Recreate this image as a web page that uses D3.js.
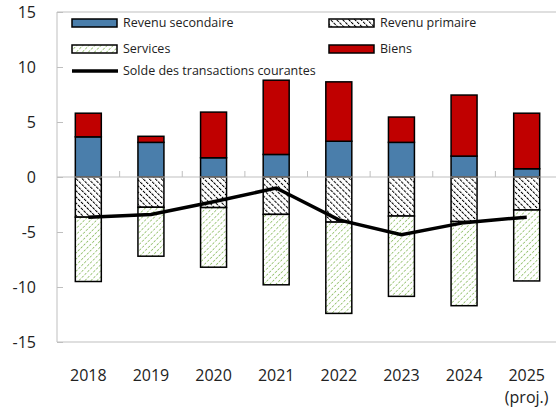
<!DOCTYPE html>
<html>
<head>
<meta charset="utf-8">
<script src="https://cdn.jsdelivr.net/npm/d3@7"></script>
<style>
  body { margin: 0; background: #fff; }
  svg { display: block; font-family: "Open Sans", "Noto Sans", sans-serif; }
</style>
</head>
<body>
<svg id="chart" width="556" height="410"></svg>
<script>
// values (% du PIB)
const years = ['2018', '2019', '2020', '2021', '2022', '2023', '2024', '2025']
const revSecondaire = [3.65, 3.15, 1.75, 2.05, 3.25, 3.15, 1.9, 0.75]
const revPrimaire = [-3.65, -2.75, -2.78, -3.4, -4.1, -3.55, -4.05, -3.0]
const services = [-5.85, -4.45, -5.42, -6.4, -8.3, -7.3, -7.65, -6.45]
const biens = [2.15, 0.55, 4.15, 6.75, 5.4, 2.3, 5.55, 5.05]
const solde = [-3.65, -3.4, -2.25, -1.0, -3.9, -5.25, -4.15, -3.65]
const yTicks = [-15, -10, -5, 0, 5, 10, 15]

const keys = ['secondaire', 'primaire', 'services', 'biens']
const rows = years.map((y, i) => ({
    year: y,
    secondaire: revSecondaire[i],
    primaire: revPrimaire[i],
    services: services[i],
    biens: biens[i]
}))

let svg = d3.select('#chart'),
    pLeft = 57, pRight = 558, pTop = 12, pBottom = 342,
    grey = '#bfbfbf'

let x = d3.scaleBand().domain(years).range([pLeft, pRight]).paddingInner(0.585).paddingOuter(0.2925)
let y = d3.scaleLinear().domain([-15, 15]).range([pBottom, pTop])

// patterns: primaire "\" black dashes, services "/" green dashes
let defs = svg.append('defs')
let p1 = defs.append('pattern').attr('id', 'hatchPrim')
    .attr('patternUnits', 'userSpaceOnUse').attr('width', 4.3).attr('height', 4)
    .attr('patternTransform', 'rotate(-45)')
p1.append('rect').attr('width', 4.3).attr('height', 4).attr('fill', '#fff')
p1.append('line').attr('x1', 0).attr('y1', 0).attr('x2', 0).attr('y2', 4)
    .attr('stroke', '#000').attr('stroke-width', 2).attr('stroke-dasharray', '3,1')

let p2 = defs.append('pattern').attr('id', 'hatchServ')
    .attr('patternUnits', 'userSpaceOnUse').attr('width', 4.3).attr('height', 4)
    .attr('patternTransform', 'rotate(45)')
p2.append('rect').attr('width', 4.3).attr('height', 4).attr('fill', '#fff')
p2.append('line').attr('x1', 0).attr('y1', 0).attr('x2', 0).attr('y2', 4)
    .attr('stroke', '#8cbd63').attr('stroke-width', 1.6).attr('stroke-dasharray', '2.5,1.5')

const fills = {
    secondaire: '#4a7eab',
    primaire: 'url(#hatchPrim)',
    services: 'url(#hatchServ)',
    biens: '#c00000'
}

// plot frame (left, top, bottom)
svg.append('path')
    .attr('d', `M${pRight},${pTop}H${pLeft}V${pBottom}H${pRight}`)
    .attr('fill', 'none').attr('stroke', grey).attr('stroke-width', 1)

// y ticks pointing inward
let yAxis = svg.append('g').attr('transform', `translate(${pLeft},0)`)
    .call(d3.axisRight(y).tickValues(yTicks).tickSize(6).tickFormat(''))
yAxis.select('.domain').remove()
yAxis.selectAll('line').attr('stroke', grey)

svg.append('g').selectAll('text').data(yTicks).join('text')
    .attr('x', 36).attr('y', d => y(d)).attr('dy', '0.36em')
    .attr('text-anchor', 'end').attr('font-size', 16).attr('fill', '#222')
    .text(d => d)

// bars
let series = d3.stack().keys(keys).offset(d3.stackOffsetDiverging)(rows)
svg.append('g').selectAll('g').data(series).join('g')
    .attr('fill', d => fills[d.key])
    .selectAll('rect').data(d => d).join('rect')
    .attr('x', d => x(d.data.year))
    .attr('width', x.bandwidth())
    .attr('y', d => y(Math.max(d[0], d[1])))
    .attr('height', d => Math.abs(y(d[0]) - y(d[1])))
    .attr('stroke', '#000').attr('stroke-width', 1.5)

// zero line with category ticks
svg.append('line').attr('x1', pLeft).attr('x2', pRight)
    .attr('y1', y(0)).attr('y2', y(0)).attr('stroke', grey).attr('stroke-width', 1.2)
svg.append('g').selectAll('line').data(years.slice(1)).join('line')
    .attr('x1', d => x(d) - x.step() * x.paddingInner() / 2)
    .attr('x2', d => x(d) - x.step() * x.paddingInner() / 2)
    .attr('y1', y(0)).attr('y2', y(0) - 6)
    .attr('stroke', grey)

// solde line
let line = d3.line().x((d, i) => x(years[i]) + x.bandwidth() / 2).y(d => y(d))
svg.append('path').datum(solde).attr('d', line)
    .attr('fill', 'none').attr('stroke', '#000').attr('stroke-width', 3.5)

// x labels
svg.append('g').selectAll('text').data(years).join('text')
    .attr('x', d => x(d) + x.bandwidth() / 2).attr('y', 381)
    .attr('text-anchor', 'middle').attr('font-size', 16).attr('fill', '#222')
    .text(d => d)
svg.append('text').attr('x', x('2025') + x.bandwidth() / 2).attr('y', 403)
    .attr('text-anchor', 'middle').attr('font-size', 16).attr('fill', '#222')
    .text('(proj.)')

// legend
const legend = [
    { key: 'secondaire', label: 'Revenu secondaire', lx: 72, ly: 23 },
    { key: 'primaire', label: 'Revenu primaire', lx: 329, ly: 23 },
    { key: 'services', label: 'Services', lx: 72, ly: 49 },
    { key: 'biens', label: 'Biens', lx: 329, ly: 49 }
]
let lg = svg.append('g').selectAll('g').data(legend).join('g')
lg.append('rect').attr('x', d => d.lx).attr('y', d => d.ly - 4)
    .attr('width', 45).attr('height', 8)
    .attr('fill', d => fills[d.key]).attr('stroke', '#000').attr('stroke-width', 1.5)
lg.append('text').attr('x', d => d.lx + 51).attr('y', d => d.ly).attr('dy', '0.35em')
    .attr('font-size', 12.5).attr('fill', '#222').text(d => d.label)

svg.append('line').attr('x1', 72).attr('x2', 118).attr('y1', 71).attr('y2', 71)
    .attr('stroke', '#000').attr('stroke-width', 3.5)
svg.append('text').attr('x', 123).attr('y', 71).attr('dy', '0.35em')
    .attr('font-size', 12.5).attr('fill', '#222').text('Solde des transactions courantes')
</script>
</body>
</html>
